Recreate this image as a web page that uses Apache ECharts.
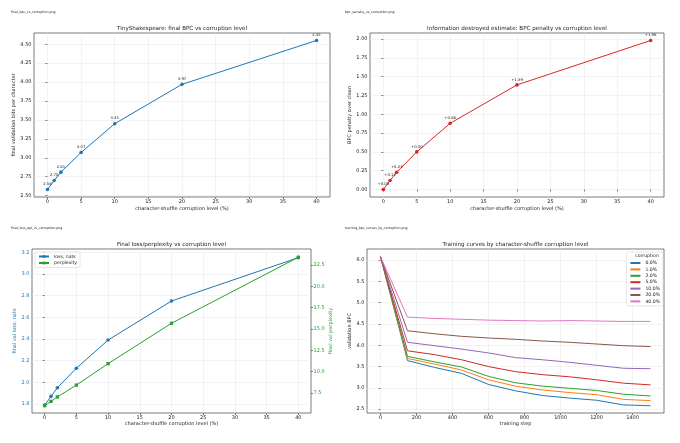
<!DOCTYPE html>
<html><head><meta charset="utf-8">
<script src="https://cdn.jsdelivr.net/npm/echarts@6/dist/echarts.min.js"></script>
<style>html,body{margin:0;padding:0;background:#fff}#c{width:680px;height:443px}</style>
</head><body><div id="c"></div>
<script>
// ---- data ----
const corruptionPct = [0, 1, 2, 5, 10, 20, 40];
const finalBpc = [2.58, 2.70, 2.81, 3.07, 3.45, 3.97, 4.55];
const bpcPenalty = [0.00, 0.12, 0.23, 0.50, 0.88, 1.39, 1.98];
const finalLossNats = [1.79, 1.87, 1.95, 2.13, 2.39, 2.75, 3.15];
const finalPerplexity = [5.98, 6.49, 7.01, 8.40, 10.92, 15.67, 23.43];
const trainSteps = [0, 150, 300, 450, 600, 750, 900, 1050, 1200, 1350, 1500];
const curveLabels = ['0.0%', '1.0%', '2.0%', '5.0%', '10.0%', '20.0%', '40.0%'];
const curve0 = [6.08, 3.64, 3.48, 3.34, 3.08, 2.93, 2.82, 2.76, 2.71, 2.60, 2.58];
const curve1 = [6.08, 3.69, 3.56, 3.42, 3.19, 3.04, 2.95, 2.89, 2.84, 2.73, 2.70];
const curve2 = [6.08, 3.74, 3.61, 3.49, 3.27, 3.12, 3.04, 2.99, 2.94, 2.85, 2.81];
const curve5 = [6.08, 3.87, 3.78, 3.66, 3.50, 3.38, 3.31, 3.26, 3.19, 3.11, 3.07];
const curve10 = [6.08, 4.07, 3.99, 3.91, 3.82, 3.71, 3.66, 3.60, 3.53, 3.46, 3.45];
const curve20 = [6.08, 4.34, 4.27, 4.21, 4.17, 4.14, 4.10, 4.07, 4.03, 3.99, 3.97];
const curve40 = [6.08, 4.66, 4.63, 4.61, 4.59, 4.58, 4.57, 4.58, 4.57, 4.56, 4.56];
const xTicksPct = [0, 5, 10, 15, 20, 25, 30, 35, 40];
const yTicksBpc = [2.50, 2.75, 3.00, 3.25, 3.50, 3.75, 4.00, 4.25, 4.50];
const yTicksPenalty = [0.00, 0.25, 0.50, 0.75, 1.00, 1.25, 1.50, 1.75, 2.00];
const yTicksLoss = [1.8, 2.0, 2.2, 2.4, 2.6, 2.8, 3.0, 3.2];
const yTicksPpl = [7.5, 10.0, 12.5, 15.0, 17.5, 20.0, 22.5];
const xTicksStep = [0, 200, 400, 600, 800, 1000, 1200, 1400];
const yTicksTrain = [2.5, 3.0, 3.5, 4.0, 4.5, 5.0, 5.5, 6.0];

// ---- style ----
const FONT = 'DejaVu Sans';
const C = ['#1f77b4', '#ff7f0e', '#2ca02c', '#d62728', '#9467bd', '#8c564b', '#e377c2'];
const TICK = 5, TITLE = 5.6, NAME = 5;
const gridLine = {show: true, lineStyle: {color: '#e6e6e6', width: 0.5}};

function xAxis(gridIndex, min, max, ticks, name, nameGap) {
  return {
    type: 'value', gridIndex, min, max,
    axisLine: {show: false},
    axisTick: {show: true, length: 2, customValues: ticks, lineStyle: {color: '#333', width: 0.6}},
    axisLabel: {customValues: ticks, fontSize: TICK, fontFamily: FONT, color: '#222', margin: 2.5,
      formatter: v => String(v)},
    splitLine: gridLine,
    name, nameLocation: 'middle', nameGap,
    nameTextStyle: {fontSize: NAME, fontFamily: FONT, color: '#222'}
  };
}
function yAxis(gridIndex, min, max, ticks, dec, name, nameGap, color, pos, split) {
  return {
    type: 'value', gridIndex, min, max, position: pos || 'left',
    axisLine: {show: false},
    axisTick: {show: true, length: 2, customValues: ticks, lineStyle: {color: '#333', width: 0.6}},
    axisLabel: {customValues: ticks, fontSize: TICK, fontFamily: FONT, color: color || '#222', margin: 2.5,
      formatter: v => v.toFixed(dec)},
    splitLine: split === false ? {show: false} : gridLine,
    name, nameLocation: 'middle', nameGap,
    nameTextStyle: {fontSize: NAME, fontFamily: FONT, color: color || '#222'}
  };
}
const pairs = (xs, ys) => xs.map((x, i) => [x, ys[i]]);
const gridBox = {show: true, borderColor: '#444', borderWidth: 0.7, backgroundColor: 'transparent'};

const trainCurves = [curve0, curve1, curve2, curve5, curve10, curve20, curve40];

const option = {
  animation: false,
  backgroundColor: '#fff',
  textStyle: {fontFamily: FONT},
  grid: [
    Object.assign({left: 34, top: 33, width: 296, height: 164}, gridBox),
    Object.assign({left: 370, top: 33, width: 294, height: 164}, gridBox),
    Object.assign({left: 32, top: 249, width: 279, height: 164}, gridBox),
    Object.assign({left: 367, top: 249, width: 297, height: 164}, gridBox)
  ],
  xAxis: [
    xAxis(0, -2, 42, xTicksPct, 'character-shuffle corruption level (%)', 9),
    xAxis(1, -2, 42, xTicksPct, 'character-shuffle corruption level (%)', 9),
    xAxis(2, -2, 42, xTicksPct, 'character-shuffle corruption level (%)', 8),
    xAxis(3, -75, 1575, xTicksStep, 'training step', 8)
  ],
  yAxis: [
    yAxis(0, 2.4815, 4.6485, yTicksBpc, 2, 'final validation bits per character', 14),
    yAxis(1, -0.099, 2.079, yTicksPenalty, 2, 'BPC penalty over clean', 14.5),
    yAxis(2, 1.717, 3.230, yTicksLoss, 1, 'final val loss, nats', 13, '#1f77b4'),
    yAxis(2, 5.12, 24.40, yTicksPpl, 1, 'final val perplexity', 14.5, '#2ca02c', 'right', false),
    yAxis(3, 2.41, 6.26, yTicksTrain, 1, 'validation BPC', 12)
  ],
  legend: [
    {
      data: ['loss, nats', 'perplexity'],
      orient: 'vertical', left: 35, top: 252, itemWidth: 10, itemHeight: 3.5, itemGap: 1.5,
      padding: [2, 3, 2, 3], borderColor: '#ccc', borderWidth: 0.5, borderRadius: 1.5,
      backgroundColor: 'rgba(255,255,255,0.8)',
      textStyle: {fontSize: 4.6, fontFamily: FONT, color: '#222'}
    },
    {
      data: curveLabels, orient: 'vertical', right: 17, top: 252, itemWidth: 10, itemHeight: 1,
      itemGap: 1.4, padding: [8.5, 3, 2, 3], borderColor: '#ccc', borderWidth: 0.5, borderRadius: 1.5,
      backgroundColor: 'rgba(255,255,255,0.8)',
      textStyle: {fontSize: 4.6, fontFamily: FONT, color: '#222'}
    }
  ],
  graphic: [
    {type: 'text', left: 11, top: 11, style: {text: 'final_bpc_vs_corruption.png', fontSize: 3.2, fontFamily: FONT, fill: '#222'}},
    {type: 'text', left: 345, top: 11, style: {text: 'bpc_penalty_vs_corruption.png', fontSize: 3.2, fontFamily: FONT, fill: '#222'}},
    {type: 'text', left: 11, top: 227, style: {text: 'final_loss_ppl_vs_corruption.png', fontSize: 3.2, fontFamily: FONT, fill: '#222'}},
    {type: 'text', left: 345, top: 227, style: {text: 'training_bpc_curves_by_corruption.png', fontSize: 3.2, fontFamily: FONT, fill: '#222'}},
    {type: 'text', x: 182, y: 29, style: {text: 'TinyShakespeare: final BPC vs corruption level', fontSize: TITLE, fontFamily: FONT, fill: '#222', align: 'center', verticalAlign: 'middle'}},
    {type: 'text', x: 517, y: 29, style: {text: 'Information destroyed estimate: BPC penalty vs corruption level', fontSize: TITLE, fontFamily: FONT, fill: '#222', align: 'center', verticalAlign: 'middle'}},
    {type: 'text', x: 171.5, y: 244.5, style: {text: 'Final loss/perplexity vs corruption level', fontSize: TITLE, fontFamily: FONT, fill: '#222', align: 'center', verticalAlign: 'middle'}},
    {type: 'text', x: 515.5, y: 245, style: {text: 'Training curves by character-shuffle corruption level', fontSize: TITLE, fontFamily: FONT, fill: '#222', align: 'center', verticalAlign: 'middle'}},
    {type: 'text', x: 647, y: 255.7, z: 100, style: {text: 'corruption', fontSize: 4.6, fontFamily: FONT, fill: '#222', align: 'center', verticalAlign: 'middle'}}
  ],
  series: [
    {
      type: 'line', xAxisIndex: 0, yAxisIndex: 0, data: pairs(corruptionPct, finalBpc),
      symbol: 'circle', symbolSize: 3.6, color: C[0], lineStyle: {width: 1},
      label: {show: true, position: 'top', distance: 1.5, fontSize: 3.8, fontFamily: FONT, color: '#222',
        formatter: p => p.value[1].toFixed(2)}
    },
    {
      type: 'line', xAxisIndex: 1, yAxisIndex: 1, data: pairs(corruptionPct, bpcPenalty),
      symbol: 'circle', symbolSize: 3.6, color: C[3], lineStyle: {width: 1},
      label: {show: true, position: 'top', distance: 1.5, fontSize: 3.8, fontFamily: FONT, color: '#222',
        formatter: p => '+' + p.value[1].toFixed(2)}
    },
    {
      name: 'loss, nats', type: 'line', xAxisIndex: 2, yAxisIndex: 2, data: pairs(corruptionPct, finalLossNats),
      symbol: 'circle', symbolSize: 3.6, color: C[0], lineStyle: {width: 1}
    },
    {
      name: 'perplexity', type: 'line', xAxisIndex: 2, yAxisIndex: 3, data: pairs(corruptionPct, finalPerplexity),
      symbol: 'rect', symbolSize: 3.3, color: C[2], lineStyle: {width: 1}
    }
  ].concat(trainCurves.map((ys, i) => ({
    name: curveLabels[i], type: 'line', xAxisIndex: 3, yAxisIndex: 4, data: pairs(trainSteps, ys),
    symbol: 'none', showSymbol: false, color: C[i], lineStyle: {width: 1}
  })))
};
echarts.init(document.getElementById('c'), null, {renderer: 'canvas'}).setOption(option);
</script>
</body></html>
